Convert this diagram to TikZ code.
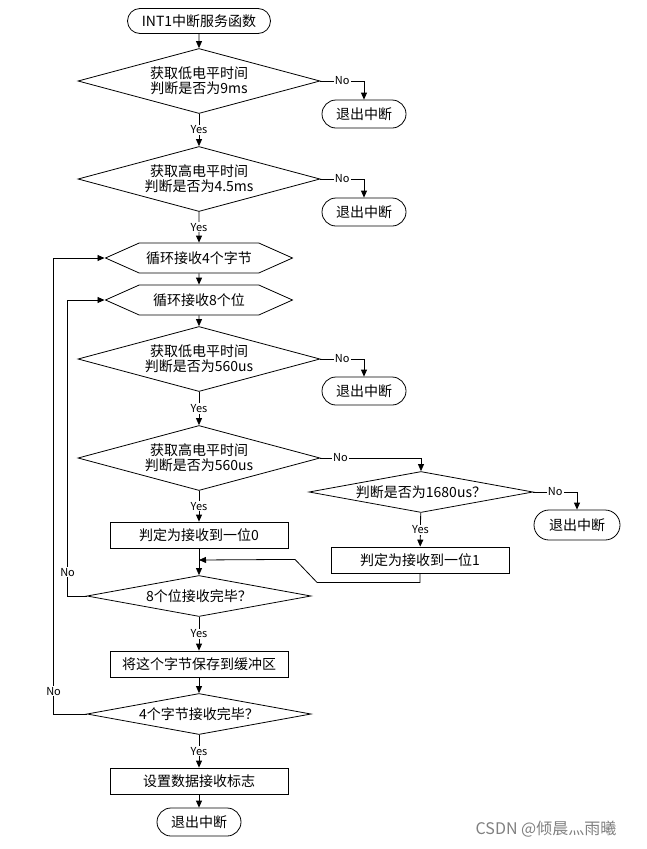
\documentclass[tikz,border=0pt]{standalone}
\usepackage{fontspec}
\setmainfont{Noto Sans CJK SC}
\usetikzlibrary{shapes.geometric,shapes.misc,shapes.symbols,arrows.meta}
\begin{document}
\begin{tikzpicture}[x=1pt, y=-1pt, line width=0.8pt,
  font=\fontsize{14}{15}\selectfont,
  every node/.style={align=center},
  term/.style={draw, rounded rectangle, minimum height=28pt, minimum width=88pt, inner sep=2pt},
  decide/.style={draw, diamond, aspect=3.7, inner sep=0pt, minimum width=242pt, minimum height=65pt},
  check/.style={draw, diamond, aspect=5.5, inner sep=0pt, minimum width=224pt, minimum height=41pt},
  proc/.style={draw, rectangle, minimum width=178pt, minimum height=26pt},
  loopbox/.style={draw, signal, signal to=west and east, signal pointer angle=48, inner sep=1pt, minimum width=187pt, minimum height=30pt},
  lbl/.style={font=\fontsize{11}{12}\selectfont, fill=white, inner sep=1pt},
  arr/.style={-{Triangle[length=7pt,width=6pt]}}]
  \useasboundingbox (0,0) rectangle (647,849);

  \node[term, minimum width=147pt, minimum height=25pt] (start) at (199,21) {INT1中断服务函数};
  \node[decide] (low1) at (199,81) {获取低电平时间\\判断是否为9ms};
  \node[term] (quit1) at (364,114) {退出中断};
  \node[decide] (high1) at (199,179) {获取高电平时间\\判断是否为4.5ms};
  \node[term] (quit2) at (364,212) {退出中断};
  \node[loopbox] (bytes) at (199,258) {循环接收4个字节};
  \node[loopbox] (bits) at (199,300) {循环接收8个位};
  \node[decide] (low2) at (199,359) {获取低电平时间\\判断是否为560us};
  \node[term] (quit3) at (364,391) {退出中断};
  \node[decide] (high2) at (199,458) {获取高电平时间\\判断是否为560us};
  \node[check] (long) at (421,492) {判断是否为1680us？};
  \node[term, minimum width=90pt, minimum height=30pt] (quit4) at (577,525) {退出中断};
  \node[proc] (zero) at (199,535) {判定为接收到一位0};
  \node[proc] (one) at (420,560) {判定为接收到一位1};
  \node[check] (bitsdone) at (199,596) {8个位接收完毕？};
  \node[proc] (save) at (199,664) {将这个字节保存到缓冲区};
  \node[check] (bytesdone) at (199,714) {4个字节接收完毕？};
  \node[proc] (flag) at (199,781) {设置数据接收标志};
  \node[term] (finish) at (199,822) {退出中断};
  \node[text=gray, font=\fontsize{16}{18}\selectfont] (mark) at (546,829) {CSDN @倾晨灬雨曦};
  \coordinate (merge) at (199,560);

  \draw[arr] (start) -- (low1);
  \draw[arr] (low1) -- node[lbl] {Yes} (high1);
  \draw[arr] (low1.east) -- node[lbl] {No} (quit1.north |- low1.east) -- (quit1.north);
  \draw[arr] (high1) -- node[lbl] {Yes} (bytes);
  \draw[arr] (high1.east) -- node[lbl] {No} (quit2.north |- high1.east) -- (quit2.north);
  \draw[arr] (bytes) -- (bits);
  \draw[arr] (bits) -- (low2);
  \draw[arr] (low2) -- node[lbl] {Yes} (high2);
  \draw[arr] (low2.east) -- node[lbl] {No} (quit3.north |- low2.east) -- (quit3.north);
  \draw[arr] (high2) -- node[lbl] {Yes} (zero);
  \draw[arr] (high2.east) -- node[lbl, pos=0.2] {No} (long.north |- high2.east) -- (long.north);
  \draw[arr] (long.east) -- node[lbl] {No} (quit4.north |- long.east) -- (quit4.north);
  \draw[arr] (long) -- node[lbl] {Yes} (one);
  \draw[arr] (one.south) -- ++(0,9) -- ++(-103,0) -- ++(-22,-23) -- (merge);
  \draw[arr] (zero) -- (bitsdone);
  \draw[arr] (bitsdone) -- node[lbl] {Yes} (save);
  \draw[arr] (bitsdone.west) -- ++(-19,0) |- node[lbl, pos=0.04] {No} (bits.west);
  \draw[arr] (save) -- (bytesdone);
  \draw[arr] (bytesdone.west) -- ++(-33,0) |- node[lbl, pos=0.025] {No} (bytes.west);
  \draw[arr] (bytesdone) -- node[lbl] {Yes} (flag);
  \draw[arr] (flag) -- (finish);
\end{tikzpicture}
\end{document}
